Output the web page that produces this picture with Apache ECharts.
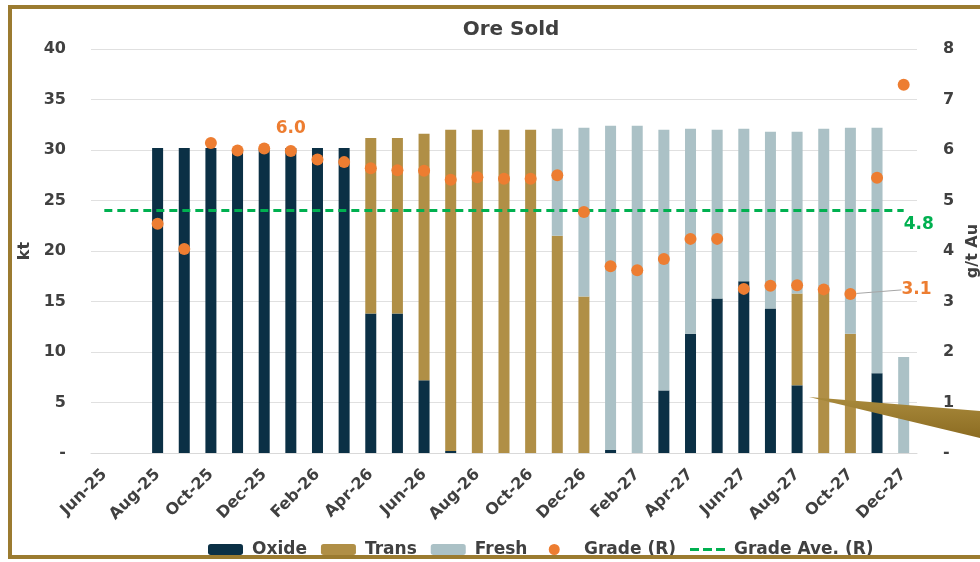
<!DOCTYPE html>
<html>
<head>
<meta charset="utf-8">
<script src="https://cdn.jsdelivr.net/npm/echarts@6/dist/echarts.min.js"></script>
<style>
  html, body { margin: 0; padding: 0; background: #fff; }
  #chart { width: 980px; height: 562px; }
</style>
</head>
<body>
<div id="chart"></div>
<script>
// monthly ore sold (kt) by type, and grade (g/t Au)
const months = [
  "Jun-25", "Jul-25", "Aug-25", "Sep-25", "Oct-25", "Nov-25", "Dec-25",
  "Jan-26", "Feb-26", "Mar-26", "Apr-26", "May-26", "Jun-26", "Jul-26",
  "Aug-26", "Sep-26", "Oct-26", "Nov-26", "Dec-26", "Jan-27", "Feb-27",
  "Mar-27", "Apr-27", "May-27", "Jun-27", "Jul-27", "Aug-27", "Sep-27",
  "Oct-27", "Nov-27", "Dec-27"
];
const oxide = [0, 0, 30.2, 30.2, 30.2, 30.1, 30.1, 30.2, 30.2, 30.2, 13.8, 13.8, 7.2, 0.2, 0, 0, 0, 0, 0, 0.3, 0, 6.2, 11.8, 15.3, 17.0, 14.3, 6.7, 0, 0, 7.9, 0];
const trans = [0, 0, 0, 0, 0, 0, 0, 0, 0, 0, 17.4, 17.4, 24.4, 31.8, 32.0, 32.0, 32.0, 21.5, 15.5, 0, 0, 0, 0, 0, 0, 0, 9.1, 16.0, 11.8, 0, 0];
const fresh = [0, 0, 0, 0, 0, 0, 0, 0, 0, 0, 0, 0, 0, 0, 0, 0, 0, 10.6, 16.7, 32.1, 32.4, 25.8, 20.3, 16.7, 15.1, 17.5, 16.0, 16.1, 20.4, 24.3, 9.5];
const grade = [null, null, 4.54, 4.04, 6.14, 5.99, 6.03, 5.98, 5.81, 5.76, 5.64, 5.60, 5.59, 5.41, 5.46, 5.43, 5.43, 5.50, 4.77, 3.70, 3.62, 3.84, 4.24, 4.24, 3.25, 3.31, 3.32, 3.24, 3.15, 5.45, 7.29];
const gradeAve = 4.8;

const textColor = "#404040";
const font = "DejaVu Sans";

const chart = echarts.init(document.getElementById("chart"));

const dash = v => (v === 0 ? "-" : v);

// grade points, two of them carry a value label
const gradeData = grade.map((g, i) => {
  if (i === 7) {
    return { value: g, label: { show: true, position: "top", distance: 8, formatter: "6.0" } };
  }
  if (i === 28) {
    return {
      value: g,
      label: { show: true, position: "right", formatter: "3.1" },
      labelLine: { show: true, lineStyle: { color: "#a6a6a6", width: 1 } }
    };
  }
  return g;
});

// legend icons: a dot inside a wide box, and a three-dash line
const dotIcon = "path://M0,5.5 L0,5.51 M35,5.5 L35,5.51 M8,5.5 A6,6 0 1,0 20,5.5 A6,6 0 1,0 8,5.5 Z";
const dashIcon = "path://M0,0 H9 V3 H0 Z M13,0 H22 V3 H13 Z M26,0 H35 V3 H26 Z";

chart.setOption({
  textStyle: { fontFamily: font },
  title: {
    text: "Ore Sold",
    left: 506,
    textAlign: "center",
    top: 15,
    textStyle: { fontSize: 20, fontWeight: "bold", color: textColor, fontFamily: font }
  },
  grid: { left: 91, right: 63, top: 49, bottom: 109, outerBoundsMode: "none" },
  legend: {
    left: 203,
    top: 536,
    itemWidth: 35,
    itemHeight: 11,
    itemGap: 14,
    textStyle: { fontSize: 17, fontWeight: "bold", color: textColor, padding: [0, 0, 0, 4] },
    data: [
      { name: "Oxide" },
      { name: "Trans" },
      { name: "Fresh", textStyle: { padding: [0, 20, 0, 4] } },
      { name: "Grade (R)", icon: dotIcon },
      { name: "Grade Ave. (R)", icon: dashIcon }
    ]
  },
  xAxis: {
    type: "category",
    data: months,
    axisLine: { lineStyle: { color: "#d9d9d9" } },
    axisTick: { interval: 1, length: 6, lineStyle: { color: "#d9d9d9" } },
    axisLabel: {
      interval: 1,
      rotate: 45,
      margin: 19,
      fontSize: 16,
      fontWeight: "bold",
      color: textColor
    }
  },
  yAxis: [
    {
      type: "value",
      min: 0,
      max: 40,
      interval: 5,
      name: "kt",
      nameLocation: "middle",
      nameRotate: 90,
      nameGap: 50,
      nameTextStyle: { fontSize: 16, fontWeight: "bold", color: textColor },
      axisLabel: { formatter: dash, fontSize: 16, fontWeight: "bold", color: textColor, margin: 25 },
      splitLine: { lineStyle: { color: "#e0e0e0" } }
    },
    {
      type: "value",
      min: 0,
      max: 8,
      interval: 1,
      name: "g/t Au",
      nameLocation: "middle",
      nameRotate: 90,
      nameGap: 40,
      nameTextStyle: { fontSize: 16, fontWeight: "bold", color: textColor },
      axisLabel: { formatter: dash, fontSize: 16, fontWeight: "bold", color: textColor, margin: 26 },
      splitLine: { show: false }
    }
  ],
  series: [
    {
      name: "Oxide",
      type: "bar",
      stack: "ore",
      barWidth: 11,
      data: oxide,
      itemStyle: { color: "#0b3045" }
    },
    {
      name: "Trans",
      type: "bar",
      stack: "ore",
      barWidth: 11,
      data: trans,
      itemStyle: { color: "#b08f46" }
    },
    {
      name: "Fresh",
      type: "bar",
      stack: "ore",
      barWidth: 11,
      data: fresh,
      itemStyle: { color: "#abc1c6" }
    },
    {
      name: "Grade (R)",
      type: "scatter",
      yAxisIndex: 1,
      symbolSize: 12,
      data: gradeData,
      itemStyle: { color: "#ed7d31", opacity: 1 },
      label: { fontSize: 17, fontWeight: "bold", color: "#ed7d31" },
      labelLayout: p => (p.dataIndex === 28 ? { dx: 40, dy: -4 } : {}),
      z: 5
    },
    {
      name: "Grade Ave. (R)",
      type: "line",
      yAxisIndex: 1,
      symbol: "none",
      data: months.map(() => gradeAve),
      lineStyle: { color: "#00b050", width: 3, type: [8, 5] },
      itemStyle: { color: "#00b050" },
      endLabel: {
        show: true,
        formatter: "4.8",
        offset: [-8, 14],
        fontSize: 17,
        fontWeight: "bold",
        color: "#00b050"
      },
      z: 4
    }
  ],
  graphic: [
    {
      type: "rect",
      shape: { x: 10, y: 7, width: 1000, height: 550 },
      style: { fill: "none", stroke: "#9b7b30", lineWidth: 4 },
      silent: true,
      z: 100
    },
    {
      type: "polygon",
      shape: { points: [[809, 397], [980, 411], [980, 438]] },
      style: {
        fill: {
          type: "linear", x: 0, y: 0, x2: 0, y2: 1,
          colorStops: [{ offset: 0, color: "#a98a3c" }, { offset: 1, color: "#8c6c22" }]
        }
      },
      silent: true,
      z: 100
    }
  ]
});
</script>
</body>
</html>
